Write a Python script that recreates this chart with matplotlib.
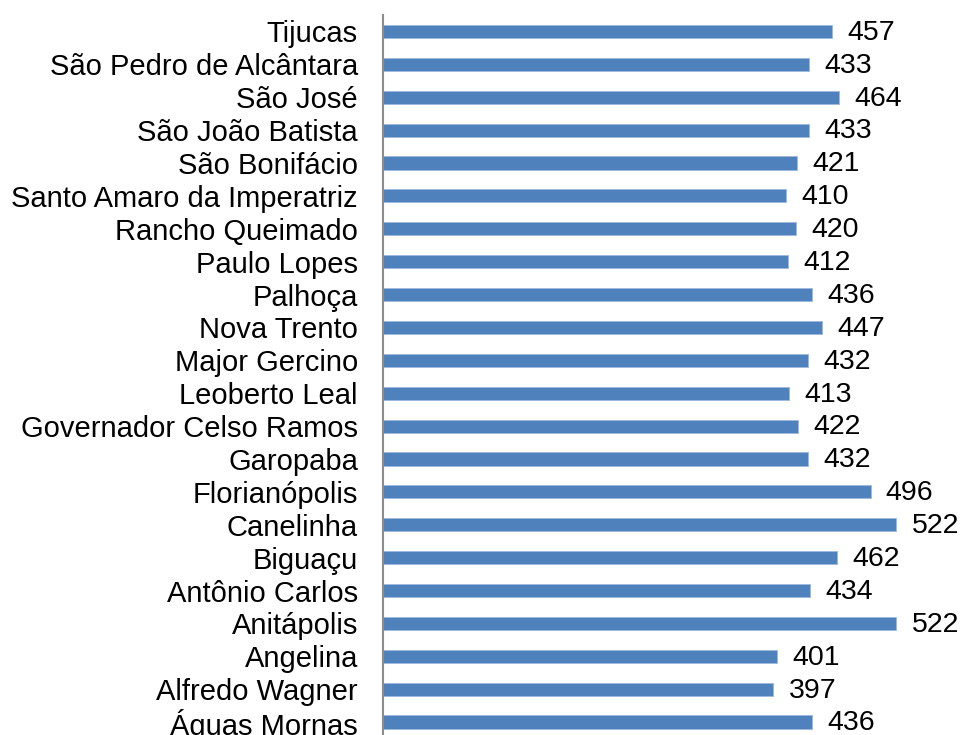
import matplotlib
matplotlib.use("Agg")
import matplotlib.pyplot as plt

categories = ["Tijucas", "São Pedro de Alcântara", "São José", "São João Batista",
              "São Bonifácio", "Santo Amaro da Imperatriz", "Rancho Queimado",
              "Paulo Lopes", "Palhoça", "Nova Trento", "Major Gercino", "Leoberto Leal",
              "Governador Celso Ramos", "Garopaba", "Florianópolis", "Canelinha",
              "Biguaçu", "Antônio Carlos", "Anitápolis", "Angelina", "Alfredo Wagner",
              "Águas Mornas"]
values = [457, 433, 464, 433, 421, 410, 420, 412, 436, 447, 432, 413, 422, 432,
          496, 522, 462, 434, 522, 401, 397, 436]

plt.rcParams['font.family'] = ['Liberation Sans', 'DejaVu Sans']

fig = plt.figure(figsize=(9.62, 7.35), dpi=100)
W, H = 962, 735
ax_left, ax_right = 383, 962
ax_top, ax_bottom = 15, 738.5
ax = fig.add_axes([ax_left / W, (H - ax_bottom) / H, (ax_right - ax_left) / W, (ax_bottom - ax_top) / H])

n = len(categories)
ypos = list(range(n))
bars = ax.barh(ypos, values, height=0.40, color='#4F81BD', edgecolor='#9DB9DE', linewidth=0.6)
ax.set_ylim(n - 0.5, -0.5)
ax.set_xlim(0, 589)
ax.set_yticks(ypos)
ax.set_yticklabels(categories, fontsize=21, color='#000000')
ax.tick_params(axis='y', length=0, pad=18)
ax.set_xticks([])
for s in ['top', 'right', 'bottom']:
    ax.spines[s].set_visible(False)
ax.spines['left'].set_color('#8C8C8C')
ax.spines['left'].set_linewidth(1.5)

for b, v in zip(bars, values):
    ax.annotate(str(v), xy=(v, b.get_y() + b.get_height() / 2), xytext=(11, -1),
                textcoords='offset points', va='center', ha='left', fontsize=20.5, color='#000000',
                annotation_clip=False)

fig.savefig('out.png', dpi=100)
